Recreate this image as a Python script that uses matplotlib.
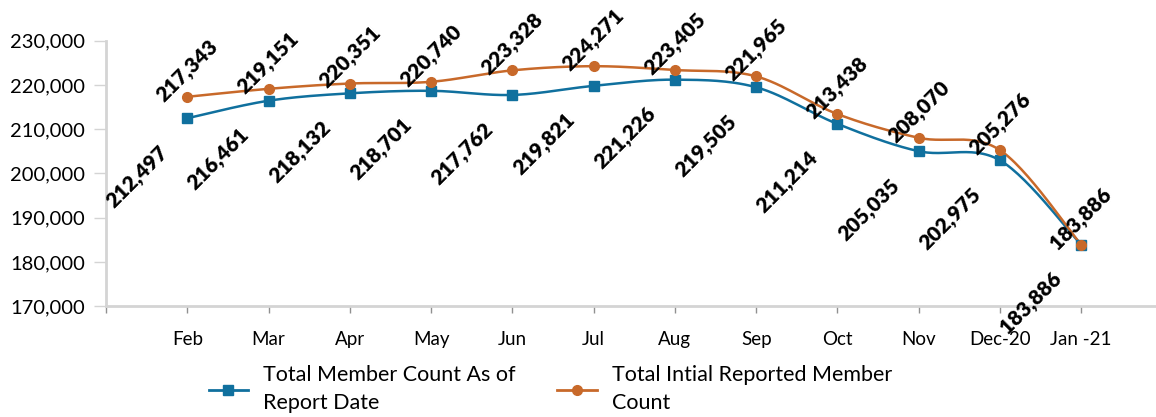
import matplotlib.pyplot as plt
import numpy as np

# Data
months = ['Feb', 'Mar', 'Apr', 'May', 'Jun', 'Jul', 'Aug', 'Sep', 'Oct', 'Nov', 'Dec-20', 'Jan -21']
member_count = [212497, 216461, 218132, 218701, 217762, 219821, 221226, 219505, 211214, 205035, 202975, 183886]
initial_count = [217343, 219151, 220351, 220740, 223328, 224271, 223405, 221965, 213438, 208070, 205276, 183886]

BLUE = '#10709E'
ORANGE = '#C8692A'
GRAY = '#D4D4D4'

plt.rcParams['font.family'] = ['Lato', 'DejaVu Sans']


def smooth(x, y, steps=30):
    """Excel-style smoothed line (Catmull-Rom as cubic Bezier)."""
    x = np.asarray(x, float)
    y = np.asarray(y, float)
    px = np.concatenate([[x[0]], x, [x[-1]]])
    py = np.concatenate([[y[0]], y, [y[-1]]])
    t = np.linspace(0, 1, steps)[:, None]
    xs, ys = [], []
    for i in range(1, len(px) - 2):
        p0 = np.array([px[i], py[i]])
        p3 = np.array([px[i + 1], py[i + 1]])
        c1 = p0 + (p3 - np.array([px[i - 1], py[i - 1]])) / 6
        c2 = p3 - (np.array([px[i + 2], py[i + 2]]) - p0) / 6
        pts = ((1 - t) ** 3) * p0 + 3 * ((1 - t) ** 2) * t * c1 + 3 * (1 - t) * t ** 2 * c2 + t ** 3 * p3
        xs.append(pts[:, 0])
        ys.append(pts[:, 1])
    return np.concatenate(xs), np.concatenate(ys)


fig = plt.figure(figsize=(11.56, 4.17), dpi=100)
ax = fig.add_axes([0.0917, 0.266, 0.9083, 0.636])

x = np.arange(1, len(months) + 1)

sx, sy = smooth(x, member_count)
ax.plot(sx, sy, color=BLUE, lw=1.8, zorder=2)
ax.plot(x, member_count, 's', color=BLUE, ms=7, zorder=3)
ox, oy = smooth(x, initial_count)
ax.plot(ox, oy, color=ORANGE, lw=1.8, zorder=2)
ax.plot(x, initial_count, 'o', color=ORANGE, ms=7, zorder=4)

# Data labels
for xi, v in zip(x, member_count):
    ax.annotate(f'{v:,}', (xi, v), xytext=(-36, -42), textcoords='offset points',
                ha='center', va='center', rotation=45, fontsize=15, fontweight='heavy',
                color='black', zorder=5)
for xi, v in zip(x, initial_count):
    ax.annotate(f'{v:,}', (xi, v), xytext=(0, 19), textcoords='offset points',
                ha='center', va='center', rotation=45, fontsize=15, fontweight='heavy',
                color='black', zorder=5)

ax.set_xlim(0, 12.92)
ax.set_ylim(170000, 230000)
ax.set_xticks(np.arange(0, len(months) + 1))
ax.set_xticklabels([''] + months, fontsize=13.5)
ax.set_yticks(np.arange(170000, 230001, 10000))
ax.set_yticklabels([f'{v:,}' for v in range(170000, 230001, 10000)], fontsize=14.5)

ax.tick_params(axis='y', length=9, width=1, color=GRAY, pad=6)
ax.tick_params(axis='x', length=5, width=1, color='#909090', pad=13)

for s in ['top', 'right']:
    ax.spines[s].set_visible(False)
for s in ['left', 'bottom']:
    ax.spines[s].set_color(GRAY)
    ax.spines[s].set_linewidth(2)

h1, = ax.plot([], [], '-s', color=BLUE, lw=2, ms=7)
h2, = ax.plot([], [], '-o', color=ORANGE, lw=2, ms=7)
leg = fig.legend([h1, h2], ['Total Member Count As of\nReport Date', 'Total Intial Reported Member\nCount'],
                 loc='center', bbox_to_anchor=(0.476, 0.066), ncol=2, frameon=False,
                 fontsize=15.5, handlelength=1.85, columnspacing=1.9, handletextpad=0.7)
for t in leg.get_texts():
    t.set_linespacing(1.5)

fig.savefig('out.png', dpi=100, facecolor='white')
